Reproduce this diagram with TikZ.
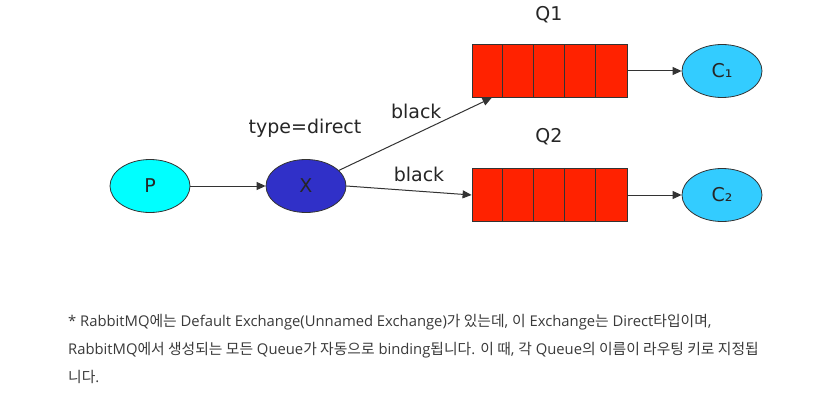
\documentclass[tikz,border=0pt]{standalone}
\usepackage{fontspec}
\usetikzlibrary{arrows.meta,shapes.geometric}
\setmainfont{Open Sans}
\newfontfamily\dvfont{DejaVu Sans}
\newfontfamily\krfont{Noto Sans CJK KR}
\newcommand{\ko}[1]{{\krfont #1}}
\definecolor{prodcyan}{HTML}{00FFFF}
\definecolor{exblue}{HTML}{3030C8}
\definecolor{qred}{HTML}{FF2200}
\definecolor{conblue}{HTML}{33CCFF}
\definecolor{notegray}{HTML}{3A3A3A}
\tikzset{
  lbl/.style={font=\dvfont\fontsize{19}{19}\selectfont, text=black!85},
  oval/.style={ellipse, draw=black!80, line width=0.8pt, minimum width=80pt, minimum height=53pt, lbl},
  queue/.style={rectangle, draw=black!80, fill=qred, line width=0.8pt, minimum width=155pt, minimum height=53pt, inner sep=0pt},
  flow/.style={draw=black!80, line width=1pt, -{Triangle[length=9pt,width=8pt]}},
}

\begin{document}
\begin{tikzpicture}[x=1pt,y=-1pt]
	\useasboundingbox[fill=white] (0,0) rectangle (825,412);
	% nodes
	\node[oval, fill=prodcyan] (p) at (150,186) {P};
	\node[oval, fill=exblue] (x) at (306,186) {X};
	\node[queue] (q1) at (549.5,71) {};
	\node[queue] (q2) at (549.5,195) {};
	\node[oval, fill=conblue] (c1) at (722,71) {C₁};
	\node[oval, fill=conblue] (c2) at (722,195) {C₂};
	\foreach \q in {q1,q2}
		\foreach \i in {1,...,4}
			\draw[black!80, line width=0.8pt] ([xshift=\i*31pt]\q.north west) -- ([xshift=\i*31pt]\q.south west);
	% labels
	\node[lbl] (q1name) at (549,15) {Q1};
	\node[lbl] (q2name) at (549,137) {Q2};
	\node[lbl] (xtype) at (305,128) {type=direct};
	% arrows
	\draw[flow] (p) -- (x);
	\draw[flow] (x) -- node[lbl, pos=0.5, above=12pt, xshift=1pt] {black} ([xshift=20pt]q1.south west);
	\draw[flow] (x.east) -- node[lbl, pos=0.58, above=6pt] {black} (q2.west);
	\draw[flow] (q1) -- (c1);
	\draw[flow] (q2) -- (c2);
	% note
	\node[anchor=base west, align=left, inner sep=0pt, text=notegray, font=\fontsize{14.8}{28}\selectfont] (note) at (68,382)
		{* RabbitMQ\ko{에는} Default Exchange(Unnamed Exchange)\ko{가 있는데}, \ko{이} Exchange\ko{는} Direct\ko{타입이며},\\
		RabbitMQ\ko{에서 생성되는 모든} Queue\ko{가 자동으로} binding\ko{됩니다}. \ko{이 때}, \ko{각} Queue\ko{의 이름이 라우팅 키로 지정됩}\\
		\ko{니다}.};
\end{tikzpicture}
\end{document}
